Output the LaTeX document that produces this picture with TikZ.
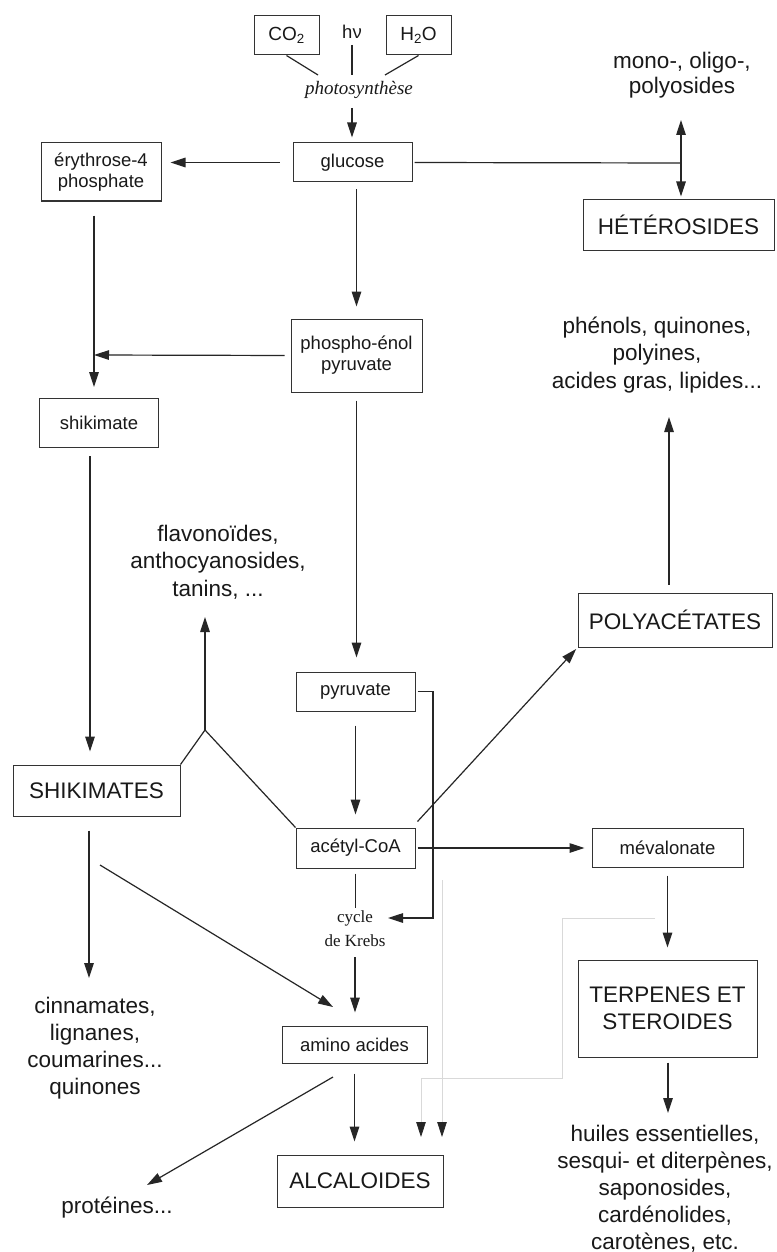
\documentclass[tikz,border=0pt]{standalone}
\usepackage{fontspec}
\setmainfont{Liberation Sans}
\newfontfamily\serifrm{Liberation Serif}
\usetikzlibrary{arrows.meta}
\begin{document}
\begin{tikzpicture}[x=1pt,y=-1pt,
  bx/.style={draw=black!80, line width=1pt, inner sep=0pt, text=black!90, align=center},
  sbx/.style={bx, font=\fontsize{18.5}{21}\selectfont},
  lbx/.style={bx, font=\fontsize{22.5}{27}\selectfont},
  lbl/.style={text=black!90, align=center, inner sep=0pt, font=\fontsize{22.5}{27.5}\selectfont},
  ln/.style={draw=black!85, line width=1.2pt},
  arr/.style={ln, -{Triangle[length=15pt,width=9.5pt]}},
  faint/.style={draw=black!15, line width=0.8pt, -{Triangle[length=15pt,width=9.5pt,color=black!85]}},
]
\path[use as bounding box, fill=white] (0,0) rectangle (776,1252);

% ---- top
\node[sbx, minimum width=65pt, minimum height=39pt, font=\fontsize{19}{21}\selectfont] (co2) at (286.5,35.5) {CO\textsubscript{2}};
\node[sbx, minimum width=65pt, minimum height=39pt, font=\fontsize{19}{21}\selectfont] (h2o) at (418.5,35.5) {H\textsubscript{2}O};
\node[text=black!90, inner sep=0pt, font=\fontsize{18.5}{20}\selectfont] (hv) at (352,32) {hν};
\node[text=black!90, inner sep=0pt, font=\serifrm\itshape\fontsize{19}{21}\selectfont] (photo) at (359,90) {photosynthèse};

\node[sbx, minimum width=119pt, minimum height=39pt] (glucose) at (352.5,162.5) {glucose};
\node[sbx, minimum width=120pt, minimum height=58pt] (ery) at (101,172) {érythrose-4\\phosphate};
\node[lbx, minimum width=191pt, minimum height=50pt] (het) at (678.5,225) {HÉTÉROSIDES};
\node[lbl, font=\fontsize{22.5}{25}\selectfont] (mono) at (682,75) {mono-, oligo-,\\polyosides};

\node[sbx, minimum width=131pt, minimum height=73pt] (pep) at (356.5,355.5) {phospho-énol\\pyruvate};
\node[sbx, minimum width=119pt, minimum height=49pt] (shik) at (99,423) {shikimate};
\node[lbl] (phen) at (657,355) {phénols, quinones,\\polyines,\\acides gras, lipides...};

\node[lbl] (flav) at (218,562) {flavonoïdes,\\anthocyanosides,\\tanins, ...};
\node[lbx, minimum width=194pt, minimum height=54pt] (poly) at (675,620) {POLYACÉTATES};

\node[sbx, minimum width=119pt, minimum height=39pt] (pyr) at (355.5,691.5) {pyruvate};
\node[lbx, minimum width=167pt, minimum height=51pt] (SHIK) at (96.5,790.5) {SHIKIMATES};
\node[sbx, minimum width=119pt, minimum height=40pt] (acoa) at (355.5,848) {acétyl-CoA};
\node[sbx, minimum width=151pt, minimum height=39pt] (mev) at (667.5,847.5) {mévalonate};
\node[text=black!90, align=center, inner sep=0pt, font=\serifrm\fontsize{17}{24}\selectfont] (krebs) at (355,929) {cycle\\de Krebs};

\node[lbx, minimum width=179pt, minimum height=97pt] (terp) at (667.5,1008.5) {TERPENES ET\\STEROIDES};
\node[lbl, font=\fontsize{22.5}{27}\selectfont] (cinn) at (95,1048) {cinnamates,\\lignanes,\\coumarines...\\quinones};
\node[sbx, minimum width=145pt, minimum height=37pt] (amino) at (354.5,1044.5) {amino acides};
\node[lbx, minimum width=166pt, minimum height=52pt] (alc) at (360,1181) {ALCALOIDES};
\node[lbl] (prot) at (117,1208) {protéines...};
\node[lbl, font=\fontsize{22.5}{27}\selectfont] (huiles) at (665,1189) {huiles essentielles,\\sesqui- et diterpènes,\\saponosides,\\cardénolides,\\carotènes, etc.};

% ---- junction coordinates
\coordinate (jl) at (318,75);
\coordinate (jm) at (352,75);
\coordinate (jr) at (385,75);
\coordinate (hub) at (681,163);
\coordinate (monoin) at (681,120);
\coordinate (vx) at (94,355);
\coordinate (kx) at (433,918);
\coordinate (kin) at (388,918);
\coordinate (fork) at (205,730);
\coordinate (flavin) at (205,617);
\coordinate (cinnin) at (89,978);
\coordinate (s2a) at (100,865);
\coordinate (s2aend) at (333,1007);
\coordinate (a2p) at (333,1077);
\coordinate (protin) at (147,1185);
\coordinate (phenin) at (669,417);
\coordinate (huin) at (668,1113);

% ---- connectors
\draw[ln] (co2.south) -- (jl);
\draw[ln, shorten <=6pt] (hv.south) -- (jm);
\draw[ln] (h2o.south) -- (jr);
\draw[arr, shorten <=9pt, shorten >=5pt] (photo.south -| jm) -- (jm |- glucose.north);

\draw[arr, shorten <=13pt, shorten >=9pt] (glucose.west) -- (glucose.west -| ery.east);
\draw[ln, shorten <=2pt] (glucose.east) -- (hub);
\draw[arr] (hub) -- (monoin);
\draw[arr, shorten >=3pt] (hub) -- (hub |- het.north);

\draw[arr, shorten <=7pt, shorten >=12pt] (pep.north |- glucose.south) -- (pep.north);
\draw[arr, shorten <=14pt, shorten >=11pt] (ery.south -| vx) -- (vx |- shik.north);
\draw[arr, shorten <=6pt] (pep.west) -- (vx);
\draw[arr, shorten <=8pt, shorten >=14pt] (pep.south) -- (pep.south |- pyr.north);
\draw[arr, shorten <=14pt, shorten >=13pt] (pyr.south) -- (pyr.south |- acoa.north);
\draw[arr, shorten <=2pt] (pyr.east) -- (pyr.east -| kx) -- (kx) -- (kin);

\draw[arr, shorten <=8pt, shorten >=13pt] ([xshift=-9pt]shik.south) -- ([xshift=-9pt]shik.south |- SHIK.north);
\draw[ln] (SHIK.north east) -- (fork) -- (acoa.north west);
\draw[arr] (fork) -- (flavin);
\draw[arr, shorten <=14pt] (SHIK.south -| cinnin) -- (cinnin);
\draw[arr] (s2a) -- (s2aend);

\draw[ln, shorten <=5pt, shorten >=3pt] (acoa.south) -- (acoa.south |- krebs.north);
\draw[arr, shorten <=10pt, shorten >=13pt] (krebs.south) -- (krebs.south |- amino.north);
\draw[arr, shorten <=10pt, shorten >=13pt] (amino.south) -- (amino.south |- alc.north);
\draw[arr] (a2p) -- (protin);

\draw[arr, shorten >=2pt] ([xshift=2pt,yshift=6pt]acoa.north east) -- (poly.south west);
\draw[arr, shorten <=2pt, shorten >=7pt] (acoa.east) -- (acoa.east -| mev.west);
\draw[arr, shorten <=8pt] ([xshift=-6pt]poly.north) -- (phenin);
\draw[arr, shorten <=8pt, shorten >=12pt] (mev.south) -- (mev.south |- terp.north);
\draw[arr, shorten <=5pt] (terp.south -| huin) -- (huin);

% ---- faint traces
\coordinate (f1) at (655,918);
\coordinate (f2) at (562,918);
\coordinate (f3) at (562,1078);
\coordinate (f4) at (421,1078);
\coordinate (f5) at (421,1137);
\coordinate (g1) at (442,880);
\coordinate (g2) at (442,1137);
\draw[faint] (f1) -- (f2) -- (f3) -- (f4) -- (f5);
\draw[faint] (g1) -- (g2);
\end{tikzpicture}
\end{document}
